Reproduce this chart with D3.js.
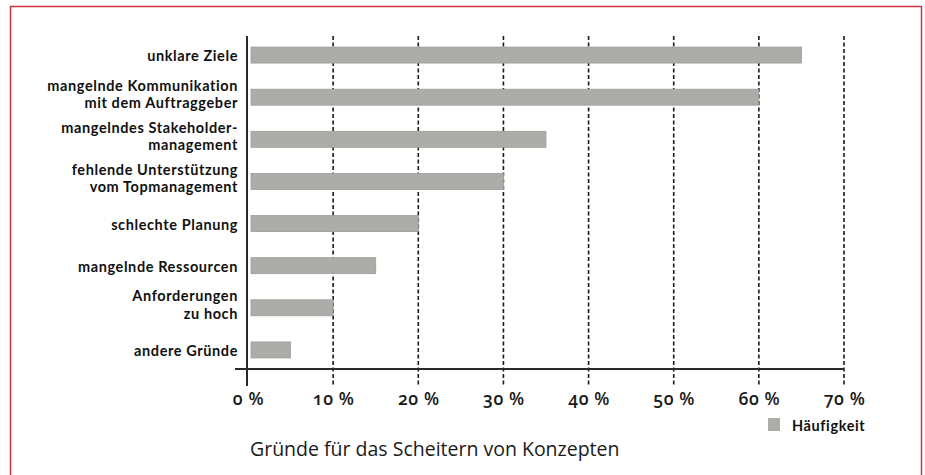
<!DOCTYPE html>
<html>
<head>
<meta charset="utf-8">
<script src="https://cdn.jsdelivr.net/npm/d3@7"></script>
<style>
  body { margin: 0; background: #fff; }
  svg { display: block; font-family: "Open Sans", sans-serif; }
</style>
</head>
<body>
<div id="wrapper"></div>
<script>
// data
const categories = [
  ["unklare Ziele"],
  ["mangelnde Kommunikation", "mit dem Auftraggeber"],
  ["mangelndes Stakeholder-", "management"],
  ["fehlende Unterstützung", "vom Topmanagement"],
  ["schlechte Planung"],
  ["mangelnde Ressourcen"],
  ["Anforderungen", "zu hoch"],
  ["andere Gründe"]
]
const values = [65, 60, 35, 30, 20, 15, 10, 5]
const tickValues = [0, 10, 20, 30, 40, 50, 60, 70]
const seriesName = "Häufigkeit"
const chartTitle = "Gründe für das Scheitern von Konzepten"

const dataset = categories.map((c, i) => ({ key: c.join(" "), lines: c, value: values[i] }))

// dimensions
const width = 925
const height = 475

const svg = d3.select("#wrapper")
  .append("svg")
  .attr("width", width)
  .attr("height", height)

// red frame
svg.append("rect")
  .attr("x", 10.5)
  .attr("y", 6.5)
  .attr("width", 911)
  .attr("height", 480)
  .attr("fill", "none")
  .attr("stroke", "#d03545")
  .attr("stroke-width", 1.5)

// scales
const xScale = d3.scaleLinear()
  .domain([0, 70])
  .range([248, 844])

const yScale = d3.scalePoint()
  .domain(dataset.map(d => d.key))
  .range([34, 371])
  .padding(0.5)

const barHeight = 16
const axisY = 369
const labelFont = "Lato, 'Open Sans', sans-serif"
const labelSize = 14.5
const lineGap = 17.4

// gridlines
svg.append("g")
  .selectAll("line")
  .data(tickValues.filter(d => d > 0))
  .join("line")
  .attr("x1", d => xScale(d))
  .attr("x2", d => xScale(d))
  .attr("y1", 36)
  .attr("y2", 386)
  .attr("stroke", "#1a1a1a")
  .attr("stroke-width", 1.6)
  .attr("stroke-dasharray", "4 2.5")

// bars
svg.append("g")
  .selectAll("rect")
  .data(dataset)
  .join("rect")
  .attr("x", xScale(0) + 3)
  .attr("y", d => yScale(d.key) - barHeight / 2)
  .attr("width", d => xScale(d.value) - xScale(0) - 3)
  .attr("height", barHeight)
  .attr("fill", "#acaca8")
  .attr("stroke", "#9c9c98")
  .attr("stroke-width", 0.8)

// axes
const xAxis = svg.append("g")
  .attr("transform", `translate(0, ${axisY})`)
  .call(d3.axisBottom(xScale).tickValues(tickValues).tickSize(0).tickPadding(0)
    .tickFormat(d => d + " %"))
xAxis.select(".domain").remove()
xAxis.selectAll("text")
  .attr("y", 36)
  .attr("dy", 0)
  .attr("fill", "#1a1a1a")
  .style("font-family", "'Open Sans', sans-serif")
  .style("font-size", "17.5px")
  .style("font-weight", 600)
  .style("letter-spacing", "0.6px")
  .style("font-variant-numeric", "oldstyle-nums")

svg.append("line")
  .attr("x1", 235)
  .attr("x2", xScale(70))
  .attr("y1", axisY)
  .attr("y2", axisY)
  .attr("stroke", "#2a2a2a")
  .attr("stroke-width", 2)

svg.append("line")
  .attr("x1", xScale(0) - 1)
  .attr("x2", xScale(0) - 1)
  .attr("y1", 36)
  .attr("y2", 386)
  .attr("stroke", "#2a2a2a")
  .attr("stroke-width", 2)

// category labels
const labels = svg.append("g")
  .selectAll("text")
  .data(dataset)
  .join("text")
  .attr("text-anchor", "end")
  .attr("fill", "#111")
  .style("font-family", labelFont)
  .style("font-size", labelSize + "px")
  .style("font-weight", 700)
  .style("letter-spacing", "0.6px")
  .attr("transform", d => `translate(238, ${yScale(d.key)})`)

labels.selectAll("tspan")
  .data(d => d.lines.map((t, i) => ({ t, i, n: d.lines.length })))
  .join("tspan")
  .attr("x", 0)
  .attr("y", l => l.n === 1 ? 6.4 : 2.2 + (l.i - 0.5) * lineGap)
  .text(l => l.t)

// legend
svg.append("rect")
  .attr("x", 768)
  .attr("y", 418)
  .attr("width", 12)
  .attr("height", 13)
  .attr("fill", "#acaca8")

svg.append("text")
  .attr("x", 792)
  .attr("y", 431)
  .attr("fill", "#111")
  .style("font-family", labelFont)
  .style("font-size", labelSize + "px")
  .style("font-weight", 700)
  .style("letter-spacing", "0.6px")
  .text(seriesName)

// title
svg.append("text")
  .attr("x", 250)
  .attr("y", 456)
  .attr("fill", "#1a1a1a")
  .style("font-size", "19.5px")
  .text(chartTitle)
</script>
</body>
</html>
